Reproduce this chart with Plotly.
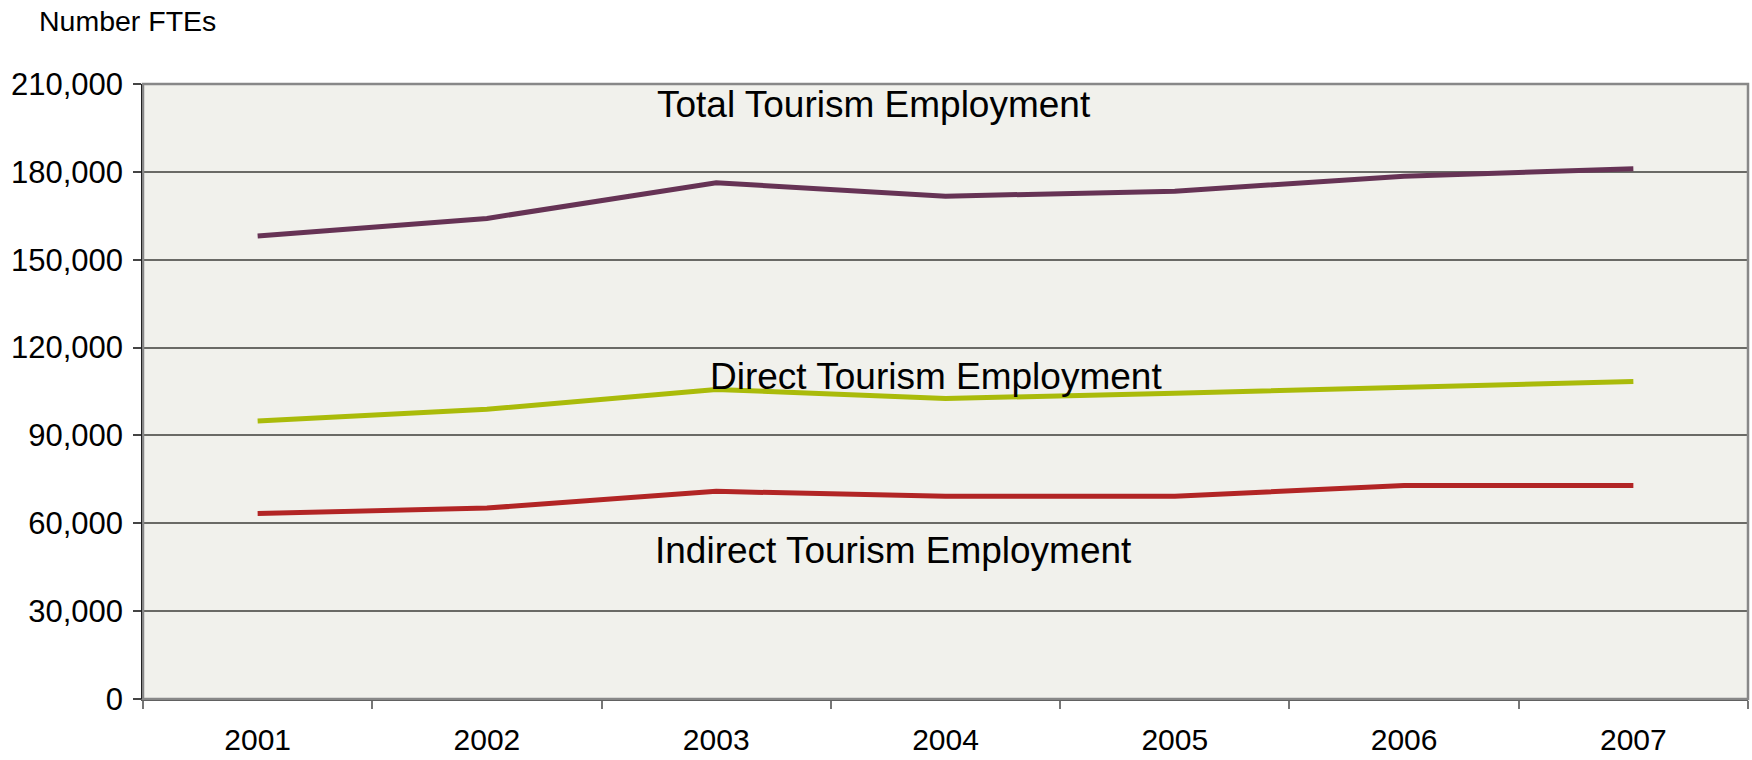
import plotly.graph_objects as go

years = ["2001", "2002", "2003", "2004", "2005", "2006", "2007"]
total = [158100, 164100, 176300, 171700, 173400, 178500, 181100]
direct = [94900, 98900, 105700, 102600, 104400, 106300, 108400]
indirect = [63300, 65200, 70900, 69200, 69200, 72900, 72900]
y_ticks = [0, 30000, 60000, 90000, 120000, 150000, 180000, 210000]

series_names = ["Total Tourism Employment", "Direct Tourism Employment", "Indirect Tourism Employment"]
series_values = [total, direct, indirect]
series_colors = ["#663355", "#AABB0A", "#B22525"]

FONT = "Liberation Sans, Arial, sans-serif"

fig = go.Figure()
for name, vals, col in zip(series_names, series_values, series_colors):
    fig.add_trace(go.Scatter(x=years, y=vals, mode="lines", name=name,
                             line=dict(color=col, width=5)))

# in-plot series labels
label_pos = [(2.69, 202900), (2.96, 110100), (2.775, 50600)]
for name, (lx, ly) in zip(series_names, label_pos):
    fig.add_annotation(x=lx, y=ly, xref="x", yref="y", text=name, showarrow=False,
                       font=dict(family=FONT, size=37, color="#000000"),
                       xanchor="center", yanchor="middle")

fig.add_annotation(x=-0.066, y=1.102, xref="paper", yref="paper", text="Number FTEs",
                   showarrow=False, xanchor="left", yanchor="middle",
                   font=dict(family=FONT, size=28.5, color="#000000"))

# plot border (top/right grey)
fig.add_shape(type="rect", xref="paper", yref="paper", x0=0, y0=0, x1=1, y1=1,
              line=dict(color="#888888", width=2.5), layer="above")

fig.update_layout(
    width=1752, height=760,
    margin=dict(l=143, r=4, t=84, b=58),
    plot_bgcolor="#F1F1EC", paper_bgcolor="#FFFFFF",
    showlegend=False,
    font=dict(family=FONT, size=31, color="#000000"),
)
fig.update_xaxes(type="category", range=[-0.5, 6.5], tickson="boundaries",
                 ticks="outside", ticklen=8, tickcolor="#777777", tickwidth=1.5,
                 showgrid=False, showline=True, linecolor="#555555", linewidth=1.5,
                 ticklabelstandoff=13, tickfont=dict(family=FONT, size=30, color="#000000"))
fig.update_yaxes(range=[0, 210000], tickvals=y_ticks, tickformat=",",
                 ticks="outside", ticklen=8, tickcolor="#444444", tickwidth=1.5,
                 showgrid=True, gridcolor="#6A6A66", gridwidth=1.5,
                 showline=True, linecolor="#000000", linewidth=1.5, zeroline=False,
                 ticklabelstandoff=4, tickfont=dict(family=FONT, size=31, color="#000000"))

fig.write_html("out.html")
